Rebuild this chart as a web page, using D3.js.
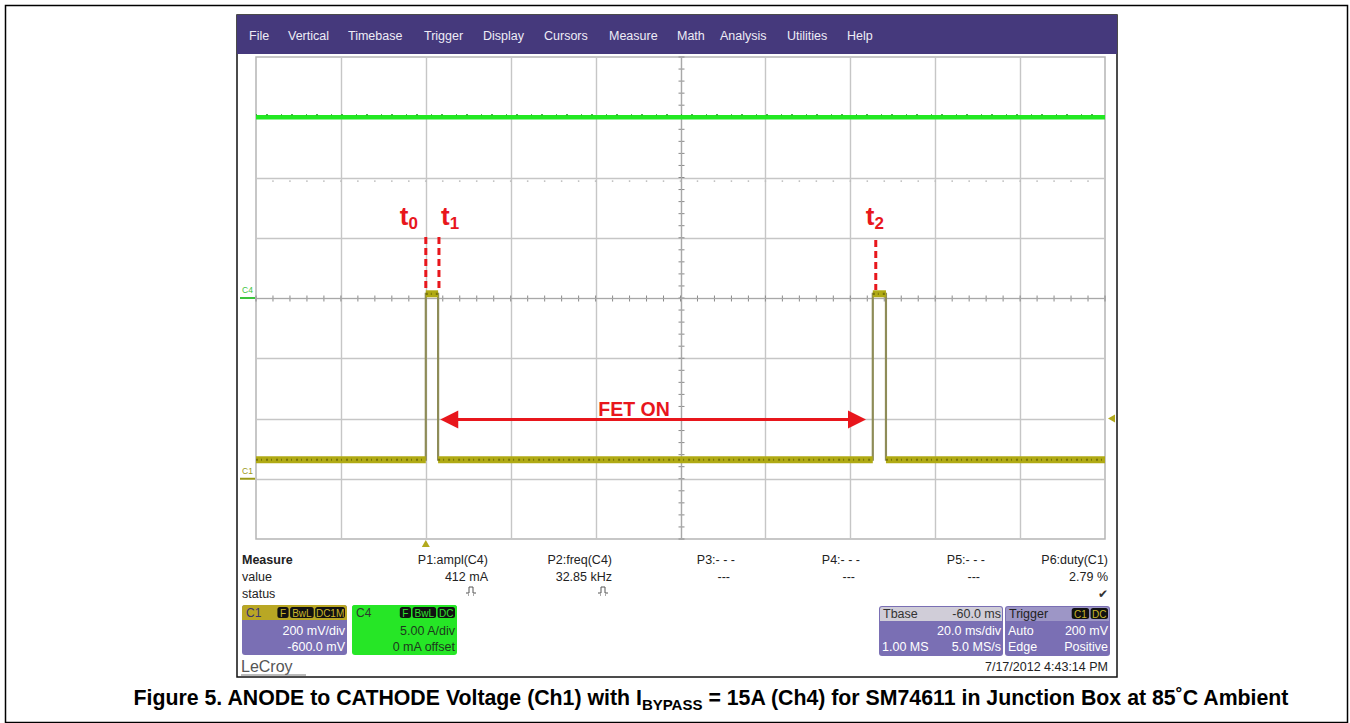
<!DOCTYPE html>
<html>
<head>
<meta charset="utf-8">
<script src="https://cdn.jsdelivr.net/npm/d3@7/dist/d3.min.js"></script>
<style>
  html, body { margin: 0; padding: 0; background: #ffffff; }
  svg { display: block; font-family: "Liberation Sans", Arial, sans-serif; }
</style>
</head>
<body>
<svg id="chart" width="1350" height="723"></svg>
<script>
// ---------------- DATA ----------------
const menuItems = ["File", "Vertical", "Timebase", "Trigger", "Display", "Cursors", "Measure", "Math", "Analysis", "Utilities", "Help"];
const menuX = [249, 288, 348, 424, 483, 544, 609, 677, 720, 787, 847];

// time axis (ms): 20 ms/div, 10 divisions, trigger at t = 0
const timeDomain = [-40, 160];
const timeGridTicks = [-40, -20, 0, 20, 40, 60, 80, 100, 120, 140, 160];

// C1: 200 mV/div, -600 mV offset
const c1Domain = [-200, 1400];
const c1GridTicks = [-200, 0, 200, 400, 600, 800, 1000, 1200, 1400];
const c1Times = [-40, 0, 0, 2.9, 2.9, 105.3, 105.3, 108.4, 108.4, 160];
const c1Values = [63, 63, 614, 614, 63, 63, 614, 614, 63, 63];

// C4: 5 A/div, 0 A offset
const c4Domain = [-20, 20];
const c4Times = [-40, 160];
const c4Values = [15, 15];

const triggerLevelMv = 200;

// annotations (times in ms)
const markerNames = ["0", "1", "2"];
const markerTimes = [0, 3.1, 106];
const fetOnSpan = [3.4, 103.7];
const fetOnLabel = "FET ON";

// measurement table
const measureHeaders = ["P1:ampl(C4)", "P2:freq(C4)", "P3:- - -", "P4:- - -", "P5:- - -", "P6:duty(C1)"];
const measureValues = ["412 mA", "32.85 kHz", "---", "---", "---", "2.79 %"];
const measureStatus = ["pulse", "pulse", "", "", "", "check"];
const measureRight = [488, 612, 735, 860, 985, 1108];

const c1Box = { name: "C1", badges: ["F", "BwL", "DC1M"], lines: ["200 mV/div", "-600.0 mV"] };
const c4Box = { name: "C4", badges: ["F", "BwL", "DC"], lines: ["5.00 A/div", "0 mA offset"] };
const tbaseBox = { title: "Tbase", titleVal: "-60.0 ms", rows: [["", "20.0 ms/div"], ["1.00 MS", "5.0 MS/s"]] };
const trigBox = { title: "Trigger", badges: ["C1", "DC"], rows: [["Auto", "200 mV"], ["Edge", "Positive"]] };
const timestamp = "7/17/2012 4:43:14 PM";
const brand = "LeCroy";
const captionPre = "Figure 5. ANODE to CATHODE Voltage (Ch1) with I";
const captionSub = "BYPASS";
const captionPost = " = 15A (Ch4) for SM74611 in Junction Box at 85˚C Ambient";

// ---------------- DRAW ----------------
const svg = d3.select("#chart");

// outer figure border
svg.append("rect").attr("x", 5.5).attr("y", 5.5).attr("width", 1342).attr("height", 717)
  .attr("fill", "#fff").attr("stroke", "#000").attr("stroke-width", 1.5);

// screenshot frame
const scr = { x0: 237, y0: 15, x1: 1117, y1: 677 };
svg.append("rect").attr("x", scr.x0).attr("y", scr.y0).attr("width", scr.x1 - scr.x0).attr("height", scr.y1 - scr.y0)
  .attr("fill", "#fff").attr("stroke", "#111").attr("stroke-width", 1.5);

// menu bar
svg.append("rect").attr("x", scr.x0).attr("y", scr.y0).attr("width", scr.x1 - scr.x0).attr("height", 39)
  .attr("fill", "#45397c");
svg.append("g").selectAll("text").data(menuItems).join("text")
  .attr("x", (d, i) => menuX[i]).attr("y", 40)
  .attr("fill", "#eeecf6").attr("font-size", 12.5).text(d => d);

// scales
const grid = { x0: 256, x1: 1105, y0: 57, y1: 539 };
const x = d3.scaleLinear().domain(timeDomain).range([grid.x0, grid.x1]);
const y1 = d3.scaleLinear().domain(c1Domain).range([grid.y1, grid.y0]);
const y4 = d3.scaleLinear().domain(c4Domain).range([grid.y1, grid.y0]);

// grid
const gGrid = svg.append("g");
gGrid.append("rect").attr("x", grid.x0).attr("y", grid.y0).attr("width", grid.x1 - grid.x0).attr("height", grid.y1 - grid.y0)
  .attr("fill", "#fff").attr("stroke", "#b5b5b5").attr("stroke-width", 1.5);
gGrid.selectAll("line.v").data(timeGridTicks.slice(1, -1)).join("line").attr("class", "v")
  .attr("x1", d => Math.round(x(d)) + 0.5).attr("x2", d => Math.round(x(d)) + 0.5)
  .attr("y1", grid.y0).attr("y2", grid.y1).attr("stroke", "#c6c6c6").attr("stroke-width", 1.4);
gGrid.selectAll("line.h").data(c1GridTicks.slice(1, -1)).join("line").attr("class", "h")
  .attr("y1", d => Math.round(y1(d)) + 0.5).attr("y2", d => Math.round(y1(d)) + 0.5)
  .attr("x1", grid.x0).attr("x2", grid.x1).attr("stroke", "#c6c6c6").attr("stroke-width", 1.4);

// minor ticks on center axes (5 per division)
const cx = Math.round(x(60)) + 0.5, cy = Math.round(y1(600)) + 0.5;
const minorT = d3.range(-40, 160.01, 4);
gGrid.selectAll("line.mt").data(minorT).join("line").attr("class", "mt")
  .attr("x1", d => x(d)).attr("x2", d => x(d)).attr("y1", cy - 3).attr("y2", cy + 3)
  .attr("stroke", "#8a8a8a").attr("stroke-width", 1);
const minorV = d3.range(-200, 1400.01, 40);
gGrid.selectAll("line.mv").data(minorV).join("line").attr("class", "mv")
  .attr("y1", d => y1(d)).attr("y2", d => y1(d)).attr("x1", cx - 3).attr("x2", cx + 3)
  .attr("stroke", "#8a8a8a").attr("stroke-width", 1);
gGrid.append("line").attr("x1", cx).attr("x2", cx).attr("y1", grid.y0).attr("y2", grid.y1)
  .attr("stroke", "#a8a8a8").attr("stroke-width", 1.2);
gGrid.append("line").attr("y1", cy).attr("y2", cy).attr("x1", grid.x0).attr("x2", grid.x1)
  .attr("stroke", "#a8a8a8").attr("stroke-width", 1.2);
// faint persistence dots
gGrid.selectAll("circle.pd").data(d3.range(-36, 160, 4)).join("circle").attr("class", "pd")
  .attr("cx", d => x(d)).attr("cy", y4(9.7)).attr("r", 0.9).attr("fill", "#bdbdbd");

// channel ground markers on left
const gnd = svg.append("g");
gnd.append("text").attr("x", 242).attr("y", y4(0) - 5).attr("font-size", 8.5).attr("fill", "#3cc43c").text("C4");
gnd.append("line").attr("x1", 240).attr("x2", 255).attr("y1", y4(0)).attr("y2", y4(0)).attr("stroke", "#3cc43c").attr("stroke-width", 2);
gnd.append("text").attr("x", 242).attr("y", y1(0) - 5).attr("font-size", 8.5).attr("fill", "#9b9a18").text("C1");
gnd.append("line").attr("x1", 240).attr("x2", 255).attr("y1", y1(0)).attr("y2", y1(0)).attr("stroke", "#9b9a18").attr("stroke-width", 2);

// trigger markers
const tx = x(0);
svg.append("path").attr("d", `M${tx - 4},${grid.y1 + 8} L${tx + 4},${grid.y1 + 8} L${tx},${grid.y1 + 1} Z`).attr("fill", "#b2a91c");
const ty = y1(triggerLevelMv);
svg.append("path").attr("d", `M${grid.x1 + 10},${ty - 4} L${grid.x1 + 10},${ty + 4} L${grid.x1 + 3},${ty} Z`).attr("fill", "#b2a91c");

// C4 trace (green)
const c4Data = c4Times.map((t, i) => [t, c4Values[i]]);
svg.append("path").datum(c4Data)
  .attr("d", d3.line().x(d => x(d[0])).y(d => y4(d[1])))
  .attr("fill", "none").attr("stroke", "#22e822").attr("stroke-width", 4.5);
svg.append("path").datum(c4Data)
  .attr("d", d3.line().x(d => x(d[0])).y(d => y4(d[1]) - 2.5))
  .attr("fill", "none").attr("stroke", "#1a9a1a").attr("stroke-width", 1.2).attr("stroke-dasharray", "1,9,2,13");

// C1 trace (yellow)
const c1Data = c1Times.map((t, i) => [t, c1Values[i]]);
const c1Line = d3.line().x(d => x(d[0])).y(d => y1(d[1]));
svg.append("path").datum(c1Data).attr("d", c1Line)
  .attr("fill", "none").attr("stroke", "#8e8c58").attr("stroke-width", 2.2);
const flats = [];
for (let i = 0; i < c1Data.length - 1; i++) {
  if (c1Data[i][1] === c1Data[i + 1][1]) flats.push([c1Data[i], c1Data[i + 1]]);
}
svg.append("g").selectAll("path.flat").data(flats).join("path").attr("class", "flat")
  .attr("d", c1Line).attr("fill", "none").attr("stroke", "#b0aa14").attr("stroke-width", 7);
svg.append("g").selectAll("path.tex").data(flats).join("path").attr("class", "tex")
  .attr("d", c1Line).attr("fill", "none").attr("stroke", "#77740a").attr("stroke-width", 2.2)
  .attr("stroke-dasharray", "2,3,1,4");

// annotations
const red = "#e8161c";
const ann = svg.append("g");
markerNames.forEach((n, i) => {
  const mx = x(markerTimes[i]);
  const lx = i === 0 ? mx - 26 : (i === 1 ? mx + 2 : mx - 10);
  const t = ann.append("text").attr("x", lx).attr("y", 225).attr("fill", red)
    .attr("font-weight", "bold").attr("font-size", 26);
  t.append("tspan").text("t");
  t.append("tspan").attr("font-size", 17).attr("dy", 4).text(n);
  ann.append("line").attr("x1", mx).attr("x2", mx).attr("y1", i === 2 ? 240 : 237).attr("y2", 290)
    .attr("stroke", red).attr("stroke-width", 3).attr("stroke-dasharray", "7,4");
});
const ay = y1(triggerLevelMv) + 1;
const ax0 = x(fetOnSpan[0]), ax1 = x(fetOnSpan[1]);
ann.append("line").attr("x1", ax0 + 14).attr("x2", ax1 - 14).attr("y1", ay).attr("y2", ay)
  .attr("stroke", red).attr("stroke-width", 3);
ann.append("path").attr("d", `M${ax0},${ay} L${ax0 + 18},${ay - 9} L${ax0 + 18},${ay + 9} Z`).attr("fill", red);
ann.append("path").attr("d", `M${ax1},${ay} L${ax1 - 18},${ay - 9} L${ax1 - 18},${ay + 9} Z`).attr("fill", red);
ann.append("text").attr("x", (ax0 + ax1) / 2 - 19).attr("y", ay - 4).attr("text-anchor", "middle")
  .attr("fill", red).attr("font-weight", "bold").attr("font-size", 19.5).text(fetOnLabel);

// measurement table
const mt = svg.append("g").attr("font-size", 12.5).attr("fill", "#222");
mt.append("text").attr("x", 242).attr("y", 564).attr("font-weight", "bold").text("Measure");
mt.append("text").attr("x", 242).attr("y", 581).text("value");
mt.append("text").attr("x", 242).attr("y", 598).text("status");
mt.selectAll("text.hd").data(measureHeaders).join("text").attr("class", "hd")
  .attr("x", (d, i) => measureRight[i]).attr("y", 564).attr("text-anchor", "end").text(d => d);
mt.selectAll("text.vl").data(measureValues).join("text").attr("class", "vl")
  .attr("x", (d, i) => measureRight[i] - (d === "---" ? 5 : 0)).attr("y", 581).attr("text-anchor", "end").text(d => d);
measureStatus.forEach((s, i) => {
  if (s === "pulse") {
    const px = measureRight[i] - (i === 0 ? 17 : 9), py = 593;
    mt.append("path").attr("d", `M${px - 5},${py} h3 v-6 h4 v6 h3`).attr("fill", "none").attr("stroke", "#555").attr("stroke-width", 1);
    mt.append("path").attr("d", `M${px - 3},${py + 2} h1 M${px + 2},${py + 2} h1`).attr("stroke", "#555").attr("stroke-width", 1);
  } else if (s === "check") {
    mt.append("text").attr("x", measureRight[i]).attr("y", 598).attr("text-anchor", "end")
      .attr("font-family", "DejaVu Sans").attr("font-size", 12).attr("fill", "#333").text("✔");
  }
});

// channel boxes
function badges(g, list, xRight, yTop, fg) {
  let xr = xRight;
  const widths = list.map(b => b.length * 6.2 + 5);
  for (let i = list.length - 1; i >= 0; i--) {
    const w = widths[i];
    g.append("rect").attr("x", xr - w).attr("y", yTop + 2).attr("width", w).attr("height", 11).attr("rx", 2.5).attr("fill", "#111");
    g.append("text").attr("x", xr - w / 2).attr("y", yTop + 11.5).attr("text-anchor", "middle")
      .attr("font-size", 10).attr("fill", fg).text(list[i]);
    xr -= w + 1.5;
  }
}
function chanBox(spec, bx, bw, headFill, bodyFill, textFill, nameFill, badgeFg) {
  const g = svg.append("g");
  const by = 605, bh = 50;
  g.append("rect").attr("x", bx).attr("y", by).attr("width", bw).attr("height", bh).attr("rx", 3).attr("fill", bodyFill);
  g.append("path").attr("d", `M${bx},${by + 15} V${by + 3} Q${bx},${by} ${bx + 3},${by} H${bx + bw - 3} Q${bx + bw},${by} ${bx + bw},${by + 3} V${by + 15} Z`).attr("fill", headFill);
  g.append("text").attr("x", bx + 4).attr("y", by + 12).attr("font-size", 12).attr("fill", nameFill).text(spec.name);
  badges(g, spec.badges, bx + bw - 2, by, badgeFg);
  spec.lines.forEach((l, i) => g.append("text").attr("x", bx + bw - 2).attr("y", by + 30 + i * 16)
    .attr("text-anchor", "end").attr("font-size", 12.5).attr("fill", textFill).text(l));
}
chanBox(c1Box, 242, 105, "#b9a724", "#7a6fb4", "#ffffff", "#3a3470", "#c9b52a");
chanBox(c4Box, 352, 105, "#26e626", "#26e626", "#1d3a1d", "#2d3a2d", "#30e030");

// timebase box
(function () {
  const g = svg.append("g");
  const bx = 879, bw = 124, by = 606, bh = 50;
  g.append("rect").attr("x", bx).attr("y", by).attr("width", bw).attr("height", bh).attr("rx", 3).attr("fill", "#7a6fb4");
  g.append("path").attr("d", `M${bx + 1},${by + 15} V${by + 3} Q${bx + 1},${by + 1} ${bx + 3},${by + 1} H${bx + bw - 3} Q${bx + bw - 1},${by + 1} ${bx + bw - 1},${by + 3} V${by + 15} Z`).attr("fill", "#d0cdd8");
  g.append("text").attr("x", bx + 4).attr("y", by + 12).attr("font-size", 12.5).attr("fill", "#333").text(tbaseBox.title);
  g.append("text").attr("x", bx + bw - 2).attr("y", by + 12).attr("text-anchor", "end").attr("font-size", 12.5).attr("fill", "#333").text(tbaseBox.titleVal);
  tbaseBox.rows.forEach((r, i) => {
    g.append("text").attr("x", bx + 3).attr("y", by + 29 + i * 16).attr("font-size", 12.5).attr("fill", "#fff").text(r[0]);
    g.append("text").attr("x", bx + bw - 2).attr("y", by + 29 + i * 16).attr("text-anchor", "end").attr("font-size", 12.5).attr("fill", "#fff").text(r[1]);
  });
})();
// trigger box
(function () {
  const g = svg.append("g");
  const bx = 1005, bw = 105, by = 606, bh = 50;
  g.append("rect").attr("x", bx).attr("y", by).attr("width", bw).attr("height", bh).attr("rx", 3).attr("fill", "#7a6fb4");
  g.append("path").attr("d", `M${bx + 1},${by + 15} V${by + 3} Q${bx + 1},${by + 1} ${bx + 3},${by + 1} H${bx + bw - 3} Q${bx + bw - 1},${by + 1} ${bx + bw - 1},${by + 3} V${by + 15} Z`).attr("fill", "#9d96c6");
  g.append("text").attr("x", bx + 4).attr("y", by + 12).attr("font-size", 12.5).attr("fill", "#222").text(trigBox.title);
  badges(g, trigBox.badges, bx + bw - 2, by, "#c9b52a");
  trigBox.rows.forEach((r, i) => {
    g.append("text").attr("x", bx + 3).attr("y", by + 29 + i * 16).attr("font-size", 12.5).attr("fill", "#fff").text(r[0]);
    g.append("text").attr("x", bx + bw - 2).attr("y", by + 29 + i * 16).attr("text-anchor", "end").attr("font-size", 12.5).attr("fill", "#fff").text(r[1]);
  });
})();

// timestamp & brand
svg.append("text").attr("x", 1108).attr("y", 671).attr("text-anchor", "end").attr("font-size", 12.5).attr("fill", "#222").text(timestamp);
svg.append("text").attr("x", 241).attr("y", 672).attr("font-size", 16).attr("fill", "#555").text(brand);
svg.append("line").attr("x1", 241).attr("x2", 306).attr("y1", 675).attr("y2", 675).attr("stroke", "#777").attr("stroke-width", 1.2);

// caption
const cap = svg.append("text").attr("x", 711).attr("y", 705).attr("text-anchor", "middle")
  .attr("font-weight", "bold").attr("font-size", 21.3).attr("fill", "#000");
cap.append("tspan").text(captionPre);
cap.append("tspan").attr("font-size", 15).attr("dy", 5).text(captionSub);
cap.append("tspan").attr("dy", -5).text(captionPost);
</script>
</body>
</html>
